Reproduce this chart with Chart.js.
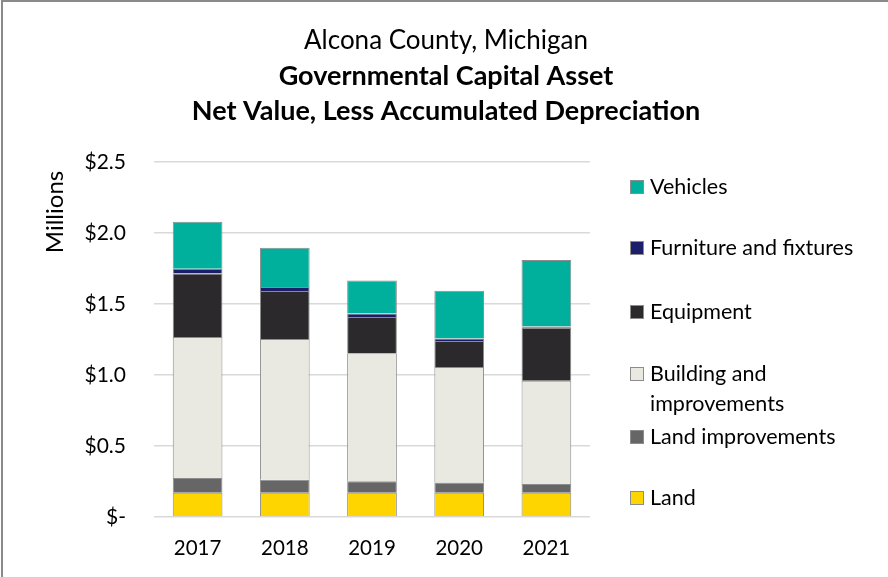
<!DOCTYPE html>
<html>
<head>
<meta charset="utf-8">
<script src="https://cdn.jsdelivr.net/npm/chart.js@4"></script>
<style>
  html, body { margin: 0; padding: 0; background: #fff; }
  #wrap { position: relative; width: 888px; height: 577px; }
</style>
</head>
<body>
<div id="wrap"><canvas id="assetChart" width="888" height="577"></canvas></div>
<script>
// values in millions of dollars
const years = ['2017', '2018', '2019', '2020', '2021'];
const land              = [0.170, 0.170, 0.170, 0.170, 0.170];
const landImprovements  = [0.105, 0.093, 0.082, 0.073, 0.063];
const buildings         = [0.993, 0.991, 0.902, 0.814, 0.726];
const equipment         = [0.446, 0.338, 0.255, 0.183, 0.373];
const furniture         = [0.035, 0.028, 0.024, 0.017, 0.009];
const vehicles          = [0.331, 0.276, 0.232, 0.336, 0.468];
const yTicks = [0, 0.5, 1.0, 1.5, 2.0, 2.5];

const FONT = 'Lato, "Open Sans", sans-serif';

const series = [
    { label: 'Land', data: land, color: '#FFD500' },
    { label: 'Land improvements', data: landImprovements, color: '#666666' },
    { label: ['Building and', 'improvements'], data: buildings, color: '#E9E9E1' },
    { label: 'Equipment', data: equipment, color: '#2B292C' },
    { label: 'Furniture and fixtures', data: furniture, color: '#1B1F6B' },
    { label: 'Vehicles', data: vehicles, color: '#00B09C' }
];

// legend rows, from top to bottom, centre y of first text line
const legendRows = [
    { idx: 5, y: 187 },
    { idx: 4, y: 248 },
    { idx: 3, y: 312 },
    { idx: 2, y: 374 },
    { idx: 1, y: 437 },
    { idx: 0, y: 498 }
];

const decorPlugin = {
    id: 'decor',
    beforeDraw(chart) {
        const ctx = chart.ctx;
        ctx.save();
        ctx.fillStyle = '#fff';
        ctx.fillRect(0, 0, chart.width, chart.height);
        ctx.restore();
    },
    afterDraw(chart) {
        const ctx = chart.ctx;
        ctx.save();
        // frame (top and left edges visible)
        ctx.strokeStyle = '#8a8a8a';
        ctx.lineWidth = 2;
        ctx.beginPath();
        ctx.moveTo(2, chart.height);
        ctx.lineTo(2, 1);
        ctx.lineTo(chart.width, 1);
        ctx.stroke();

        // title
        ctx.fillStyle = '#000';
        ctx.textAlign = 'center';
        ctx.textBaseline = 'middle';
        ctx.font = '26px ' + FONT;
        ctx.fillText('Alcona County, Michigan', 446, 41);
        ctx.font = 'bold 27px ' + FONT;
        ctx.fillText('Governmental Capital Asset', 446, 76);
        ctx.fillText('Net Value, Less Accumulated Depreciation', 446, 111);

        // y axis title
        ctx.save();
        ctx.translate(55, 212);
        ctx.rotate(-Math.PI / 2);
        ctx.font = '24px ' + FONT;
        ctx.fillText('Millions', 0, 0);
        ctx.restore();

        // legend
        ctx.textAlign = 'left';
        ctx.font = '21.5px ' + FONT;
        legendRows.forEach(row => {
            const s = series[row.idx];
            ctx.fillStyle = s.color;
            ctx.fillRect(630, row.y - 7, 14, 14);
            ctx.strokeStyle = '#8c8c8c';
            ctx.lineWidth = 1;
            ctx.strokeRect(630.5, row.y - 6.5, 13, 13);
            ctx.fillStyle = '#000';
            const lines = Array.isArray(s.label) ? s.label : [s.label];
            lines.forEach((t, i) => ctx.fillText(t, 650, row.y + i * 30));
        });
        ctx.restore();
    }
};

new Chart(document.getElementById('assetChart'), {
    type: 'bar',
    data: {
        labels: years,
        datasets: series.map(s => ({
            label: Array.isArray(s.label) ? s.label.join(' ') : s.label,
            data: s.data,
            backgroundColor: s.color,
            borderColor: '#8c8c8c',
            borderWidth: 1,
            barPercentage: 0.57,
            categoryPercentage: 1
        }))
    },
    options: {
        responsive: false,
        animation: false,
        layout: { padding: { left: 0, top: 162, right: 298, bottom: 0 } },
        plugins: {
            legend: { display: false },
            tooltip: { enabled: false }
        },
        scales: {
            x: {
                stacked: true,
                grid: { display: false, drawTicks: false },
                border: { display: false },
                ticks: { color: '#000', padding: 19, font: { family: FONT, size: 20.5 } },
                afterFit: scale => { scale.height = 60; }
            },
            y: {
                stacked: true,
                min: 0,
                max: 2.5,
                afterBuildTicks: scale => { scale.ticks = yTicks.map(v => ({ value: v })); },
                afterFit: scale => { scale.width = 154; },
                grid: { color: '#d9d9d9', lineWidth: 1.5, drawTicks: false },
                border: { display: false },
                ticks: {
                    color: '#000',
                    padding: 28,
                    font: { family: FONT, size: 21 },
                    callback: v => v === 0 ? '$-' : '$' + v.toFixed(1)
                }
            }
        }
    },
    plugins: [decorPlugin]
});
</script>
</body>
</html>
